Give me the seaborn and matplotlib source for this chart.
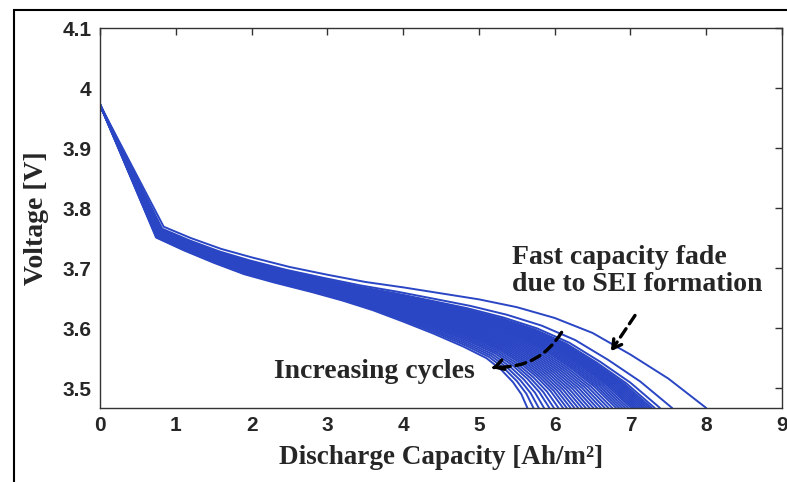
import numpy as np
import pandas as pd
import matplotlib
matplotlib.use("Agg")
import matplotlib.pyplot as plt
import seaborn as sns
from matplotlib.patches import Rectangle

# Capacity at end of discharge for each cycle [Ah/m2]
end_capacity = [8.00, 7.55, 7.39, 7.32, 7.28, 7.25, 7.22, 7.19, 7.16, 7.13,
                7.10, 7.07, 7.04, 7.01, 6.97, 6.93, 6.89, 6.85, 6.81, 6.76,
                6.71, 6.66, 6.61, 6.56, 6.51, 6.46, 6.41, 6.36, 6.31, 6.26,
                6.21, 6.16, 6.11, 6.05, 5.99, 5.93, 5.86, 5.79, 5.72, 5.64]

# First cycle discharge curve (capacity, voltage)
first_cap = [0.00, 0.84, 1.20, 1.60, 2.00, 2.50, 3.00, 3.50, 4.00, 4.50,
             5.00, 5.50, 6.00, 6.50, 7.00, 7.50, 8.00]
first_volt = [3.972, 3.769, 3.750, 3.732, 3.718, 3.702, 3.689, 3.677, 3.668, 3.658,
              3.648, 3.635, 3.617, 3.592, 3.556, 3.516, 3.467]

# Last cycle discharge curve (capacity, voltage)
last_cap = [0.00, 0.74, 1.10, 1.50, 1.90, 2.30, 2.80, 3.20, 3.60, 4.00,
            4.40, 4.80, 5.10, 5.30, 5.45, 5.56, 5.64]
last_volt = [3.972, 3.751, 3.730, 3.709, 3.690, 3.676, 3.660, 3.646, 3.630, 3.611,
             3.591, 3.569, 3.550, 3.530, 3.510, 3.490, 3.467]

rows = []
c0, c1 = end_capacity[0], end_capacity[-1]
for i, cend in enumerate(end_capacity):
    w = (cend - c1) / (c0 - c1)
    for k in range(len(first_cap)):
        rows.append({"cycle": i,
                     "cap": w * first_cap[k] + (1 - w) * last_cap[k],
                     "volt": w * first_volt[k] + (1 - w) * last_volt[k]})
df = pd.DataFrame(rows)

sns.set_style("white")
plt.rcParams["font.family"] = ["Liberation Sans", "DejaVu Sans"]

fig = plt.figure(figsize=(7.87, 4.82), dpi=100)
ax = fig.add_axes([0.1271, 0.1535, 0.8666, 0.7884])

sns.lineplot(data=df, x="cap", y="volt", units="cycle", estimator=None,
             sort=False, color="#2a46c4", lw=1.4, ax=ax, legend=False)

ax.set_xlim(0, 9)
ax.set_ylim(3.467, 4.1)
ax.set_xticks(range(0, 10))
ax.set_yticks([3.5, 3.6, 3.7, 3.8, 3.9, 4.0, 4.1])
ax.yaxis.set_major_formatter(matplotlib.ticker.FormatStrFormatter("%g"))
ax.tick_params(direction="in", length=5, width=1, top=True, right=True,
               labelsize=15, color="#333333", pad=6)
for lab in ax.get_xticklabels() + ax.get_yticklabels():
    lab.set_fontweight("bold")
for s in ax.spines.values():
    s.set_color("#333333")
    s.set_linewidth(1.0)

serif = dict(family="Liberation Serif", weight="bold")
ax.set_xlabel("Discharge Capacity [Ah/m²]", fontsize=19.5, labelpad=7, **serif)
ax.set_ylabel("Voltage [V]", fontsize=20, labelpad=10, **serif)

ax.text(5.44, 3.738, "Fast capacity fade\ndue to SEI formation", ha="left", va="top",
        fontsize=20, linespacing=1.1, **serif)
ax.text(2.30, 3.527, "Increasing cycles", ha="left", va="center", fontsize=20, **serif)

# dashed arrows
ax.annotate("", xy=(6.76, 3.565), xytext=(7.08, 3.625),
            arrowprops=dict(arrowstyle="-", lw=2.4, linestyle=(0, (3, 1.8)), color="black"))
ax.annotate("", xy=(6.72, 3.558), xytext=(6.80, 3.572),
            arrowprops=dict(arrowstyle="->,head_length=0.6,head_width=0.35", lw=2.4, color="black"))
ax.annotate("", xy=(5.22, 3.535), xytext=(6.11, 3.597),
            arrowprops=dict(arrowstyle="-", lw=2.4, linestyle=(0, (3, 1.8)), color="black",
                            connectionstyle="arc3,rad=-0.3"))
ax.annotate("", xy=(5.14, 3.532), xytext=(5.24, 3.536),
            arrowprops=dict(arrowstyle="->,head_length=0.6,head_width=0.35", lw=2.4, color="black"))

# outer frame of the figure
fig.patches.append(Rectangle((14 / 787, -0.2), 1.2, 0.2 + (1 - 10 / 482), transform=fig.transFigure,
                             fill=False, edgecolor="black", lw=1.5))

fig.savefig("out.png", dpi=100)
